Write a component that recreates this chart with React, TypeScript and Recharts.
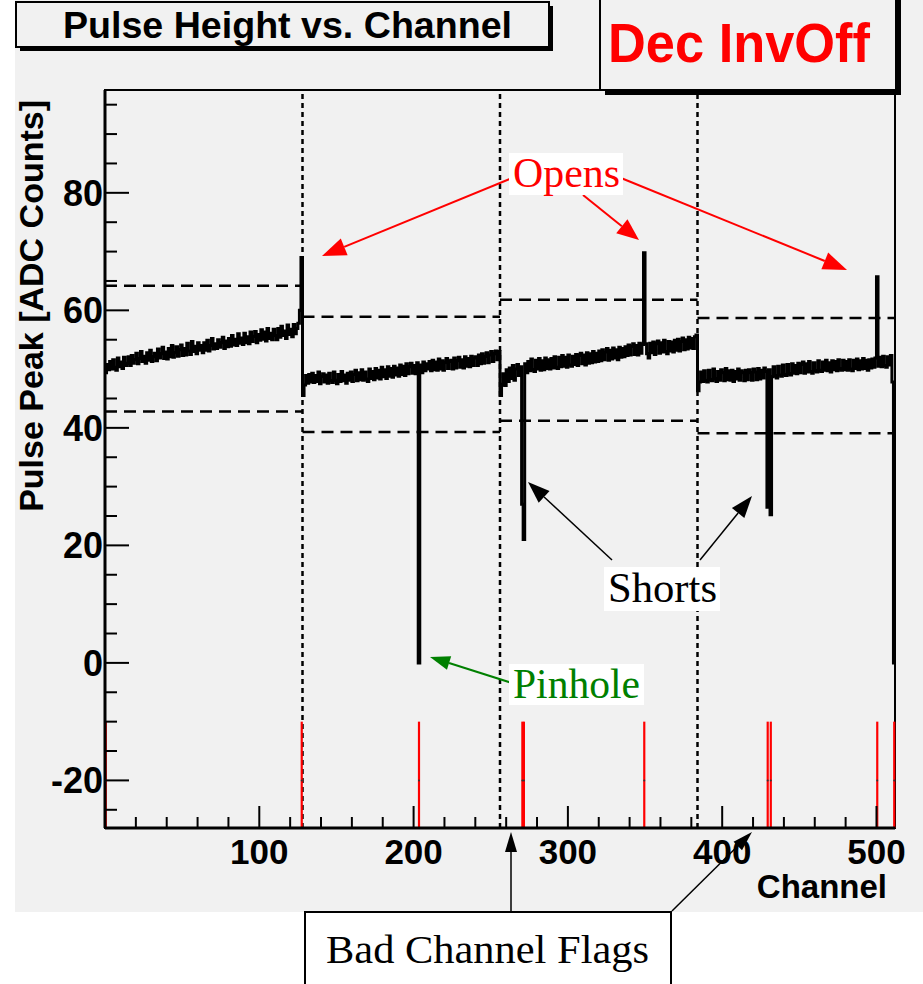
import { ComposedChart, Line, XAxis, YAxis, ReferenceLine, ReferenceArea, ReferenceDot } from 'recharts';

// pulse peak per channel, one array per 128-channel chip
const chip0 = [
  49.4, 50.8, 49.9, 51.3, 50.0, 51.6, 50.3, 49.8, 51.9, 50.4, 51.2, 50.1, 52.0, 50.6, 51.0, 52.1,
  50.6, 52.3, 51.0, 51.6, 52.7, 50.9, 51.8, 53.0, 51.3, 52.2, 51.0, 52.8, 51.5, 53.2, 51.3, 52.1,
  52.7, 51.4, 53.4, 51.9, 52.6, 53.7, 51.8, 52.9, 51.7, 53.5, 52.1, 54.0, 52.0, 52.8, 53.8, 52.2,
  53.3, 54.1, 52.3, 53.5, 52.4, 54.4, 53.1, 52.5, 54.7, 53.0, 53.9, 52.6, 54.5, 53.2, 54.0, 52.8,
  54.5, 53.2, 54.9, 53.1, 54.0, 55.2, 53.4, 54.3, 53.5, 55.0, 53.7, 54.5, 55.4, 53.5, 54.8, 53.8,
  55.2, 53.9, 55.7, 54.1, 55.1, 54.0, 56.0, 54.4, 55.3, 54.2, 56.1, 54.5, 55.5, 54.3, 56.3, 54.7,
  55.6, 56.4, 54.5, 55.9, 54.9, 56.7, 55.1, 56.3, 54.8, 56.9, 55.2, 56.1, 55.0, 56.8, 55.7, 55.0,
  56.9, 55.4, 57.3, 55.7, 56.5, 55.2, 57.5, 55.9, 56.8, 55.5, 57.6, 56.0, 56.9, 57.8, 60.0, 69.0,
];
const chip1 = [
  45.5, 47.3, 48.9, 47.6, 49.1, 47.8, 49.3, 47.7, 48.9, 47.9, 49.5, 47.5, 48.8, 49.2, 47.8, 49.0,
  47.6, 49.3, 48.0, 47.7, 49.5, 48.1, 47.5, 49.1, 47.9, 49.6, 48.0, 49.0, 47.6, 49.3, 48.1, 49.5,
  47.9, 49.1, 49.8, 48.0, 49.4, 48.2, 49.9, 48.1, 49.5, 48.3, 47.9, 50.0, 48.4, 49.6, 48.2, 50.1,
  48.5, 49.8, 48.3, 50.3, 48.7, 49.9, 48.4, 50.4, 48.8, 50.1, 48.6, 50.5, 49.0, 50.2, 48.8, 50.7,
  49.1, 50.5, 48.9, 50.9, 49.2, 50.4, 51.0, 49.3, 50.6, 49.2, 51.1, 0, 50.7, 49.4, 51.2, 49.7,
  50.9, 50.0, 51.3, 49.7, 51.5, 49.9, 51.2, 49.8, 51.7, 50.0, 51.4, 49.8, 51.2, 51.8, 50.1, 51.3,
  51.5, 50.0, 51.9, 50.2, 51.4, 52.0, 50.3, 51.6, 50.2, 52.1, 50.5, 51.8, 50.4, 52.2, 50.6, 51.9,
  52.1, 50.6, 52.4, 50.9, 52.6, 51.0, 52.2, 52.8, 51.1, 52.4, 53.0, 51.3, 52.6, 53.1, 51.6, 53.0,
];
const chip2 = [
  45.5, 47.4, 49.2, 47.2, 49.9, 47.9, 50.2, 48.4, 50.6, 48.1, 50.0, 50.8, 48.9, 50.4, 27.0, 21.0,
  50.9, 49.4, 51.3, 49.7, 51.7, 49.9, 49.6, 51.5, 50.0, 51.8, 49.8, 51.4, 49.9, 51.9, 50.1, 51.6,
  50.0, 51.8, 50.2, 52.1, 50.3, 50.1, 52.0, 50.4, 52.3, 50.5, 52.0, 50.3, 52.4, 50.7, 50.5, 52.2,
  50.8, 52.5, 50.6, 52.3, 52.7, 50.9, 52.4, 50.7, 52.8, 51.0, 52.6, 51.1, 53.0, 51.2, 52.7, 51.3,
  53.1, 51.4, 53.3, 51.6, 52.9, 53.5, 51.5, 53.2, 51.7, 53.6, 51.9, 53.3, 51.6, 53.7, 52.0, 53.5,
  52.1, 53.8, 52.3, 54.1, 52.4, 53.9, 54.3, 52.5, 54.0, 52.4, 54.4, 52.7, 54.2, 69.8, 54.3, 52.6,
  51.9, 54.4, 52.8, 54.6, 52.5, 54.3, 54.8, 52.7, 54.5, 52.9, 54.9, 53.0, 52.6, 54.7, 53.1, 54.6,
  52.9, 54.9, 53.2, 55.1, 53.1, 54.7, 55.3, 53.3, 55.0, 53.4, 55.4, 53.6, 55.2, 53.5, 55.5, 55.8,
];
const chip3 = [
  46.3, 47.8, 49.5, 47.9, 49.7, 48.1, 47.8, 49.8, 48.2, 48.0, 50.0, 48.3, 47.9, 49.6, 48.1, 49.9,
  49.4, 48.0, 50.1, 48.2, 49.7, 48.1, 49.8, 47.9, 49.6, 48.3, 50.0, 48.1, 49.7, 49.4, 48.0, 49.8,
  48.2, 49.9, 49.4, 48.1, 50.0, 49.5, 48.2, 50.1, 48.3, 49.8, 48.5, 50.2, 49.6, 26.5, 49.9, 25.2,
  48.7, 50.4, 48.9, 48.5, 50.5, 49.0, 48.8, 50.7, 49.1, 48.9, 50.8, 49.2, 49.0, 50.9, 49.3, 50.6,
  49.2, 51.0, 49.4, 50.8, 51.2, 49.3, 50.9, 49.5, 51.3, 49.6, 49.3, 51.1, 49.7, 49.5, 51.4, 49.8,
  49.6, 51.2, 49.8, 51.5, 49.7, 51.1, 49.5, 51.4, 49.9, 51.3, 49.7, 51.6, 50.0, 49.8, 51.5, 49.9,
  51.3, 49.8, 51.6, 50.0, 49.7, 51.5, 50.1, 51.7, 49.9, 51.4, 50.0, 51.8, 50.1, 51.5, 49.8, 51.6,
  50.2, 51.7, 50.3, 51.9, 65.7, 50.5, 52.0, 50.4, 52.2, 50.6, 50.3, 52.1, 50.7, 52.3, 47.8, 0,
];

const chipStarts = [0, 128, 256, 384];
const chipBoundaries = [128, 256, 384];
const upperCut = [64.2, 58.9, 61.8, 58.7];
const lowerCut = [42.8, 39.3, 41.2, 39.1];
const badChannels = [0, 127, 203, 270, 271, 349, 429, 431, 500, 511];
const flagTop = -10;
const flagMark = -20;

const xTicks = [0, 20, 40, 60, 80, 100, 120, 140, 160, 180, 200, 220, 240, 260, 280, 300, 320, 340, 360, 380, 400, 420, 440, 460, 480, 500];
const yTicks = [-25, -20, -15, -10, -5, 0, 5, 10, 15, 20, 25, 30, 35, 40, 45, 50, 55, 60, 65, 70, 75, 80, 85, 90, 95];

const Y_MIN = -28.1;
const Y_MAX = 97.5;
const N_CH = 512;

const pulsePeak = [...chip0, ...chip1, ...chip2, ...chip3];
const data = pulsePeak.map((v, ch) => ({ ch, v }));
data.push({ ch: N_CH, v: pulsePeak[N_CH - 1] });

const sans = '"Liberation Sans", Arial, Helvetica, sans-serif';
const serif = '"Liberation Serif", "Times New Roman", serif';
const BG = '#f1f1f1';

const XTick = (props: any) => {
  const { x, y, payload } = props;
  const major = payload.value % 100 === 0;
  return (
    <g>
      <line x1={x} x2={x} y1={y} y2={y - (major ? 22 : 11)} stroke="#000" strokeWidth={2} />
      {major && payload.value > 0 && (
        <text x={x} y={y + 36} textAnchor="middle" fontFamily={sans} fontWeight="bold" fontSize={35} fill="#000">
          {payload.value}
        </text>
      )}
    </g>
  );
};

const YTick = (props: any) => {
  const { x, y, payload } = props;
  const major = payload.value % 20 === 0;
  return (
    <g>
      <line x1={x} x2={x + (major ? 24 : 12)} y1={y} y2={y} stroke="#000" strokeWidth={2} />
      {major && (
        <text x={x - 2} y={y + 13} textAnchor="end" fontFamily={sans} fontWeight="bold" fontSize={36} fill="#000">
          {payload.value}
        </text>
      )}
    </g>
  );
};

const Arrow = ({ x1, y1, x2, y2, color, w = 2, len = 20, half = 7 }: any) => {
  const dx = x2 - x1;
  const dy = y2 - y1;
  const d = Math.hypot(dx, dy);
  const ux = dx / d;
  const uy = dy / d;
  const bx = x2 - ux * len;
  const by = y2 - uy * len;
  const pts = `${x2},${y2} ${bx - uy * half},${by + ux * half} ${bx + uy * half},${by - ux * half}`;
  return (
    <g>
      <line x1={x1} y1={y1} x2={bx} y2={by} stroke={color} strokeWidth={w} />
      <polygon points={pts} fill={color} />
    </g>
  );
};

export default function App() {
  return (
    <div style={{ position: 'relative', width: 923, height: 984, background: '#fff' }}>
      <style>{'body{margin:0}'}</style>
      <div style={{ position: 'absolute', left: 15, top: 0, width: 908, height: 912, background: BG }} />
      <div style={{ position: 'absolute', left: 0, top: 0 }}>
        <ComposedChart width={923} height={984} data={data} margin={{ top: 90, right: 28, left: 0, bottom: 0 }}>
          <XAxis
            dataKey="ch"
            type="number"
            domain={[0, N_CH]}
            ticks={xTicks}
            interval={0}
            height={156}
            tickSize={0}
            tickMargin={0}
            tick={<XTick />}
            axisLine={{ stroke: '#000', strokeWidth: 3 }}
            allowDataOverflow
            label={(p: any) => {
              const vb = p.viewBox;
              return (
                <text x={vb.x + vb.width - 8} y={vb.y + 70} textAnchor="end" fontFamily={sans} fontWeight="bold" fontSize={33} fill="#000">
                  Channel
                </text>
              );
            }}
          />
          <YAxis
            type="number"
            domain={[Y_MIN, Y_MAX]}
            ticks={yTicks}
            interval={0}
            width={105}
            tickSize={0}
            tickMargin={0}
            tick={<YTick />}
            axisLine={{ stroke: '#000', strokeWidth: 3 }}
            allowDataOverflow
            label={(p: any) => {
              const vb = p.viewBox;
              return (
                <text
                  x={43}
                  y={vb.y + 10}
                  transform={`rotate(-90 43 ${vb.y + 10})`}
                  textAnchor="end"
                  fontFamily={sans}
                  fontWeight="bold"
                  fontSize={34}
                  fill="#000"
                >
                  Pulse Peak [ADC Counts]
                </text>
              );
            }}
          />
          <ReferenceArea x1={0} x2={N_CH} y1={Y_MIN} y2={Y_MAX} fill="none" stroke="#000" strokeWidth={2} />
          {chipBoundaries.map((c) => (
            <ReferenceLine key={'b' + c} x={c} stroke="#000" strokeWidth={2.5} strokeDasharray="5 4" />
          ))}
          {chipStarts.map((c, i) => (
            <ReferenceLine
              key={'u' + c}
              segment={[{ x: c, y: upperCut[i] }, { x: c + 128, y: upperCut[i] }]}
              stroke="#000"
              strokeWidth={2.5}
              strokeDasharray="12 7"
            />
          ))}
          {chipStarts.map((c, i) => (
            <ReferenceLine
              key={'l' + c}
              segment={[{ x: c, y: lowerCut[i] }, { x: c + 128, y: lowerCut[i] }]}
              stroke="#000"
              strokeWidth={2.5}
              strokeDasharray="12 7"
            />
          ))}
          {badChannels.map((c) => (
            <ReferenceLine
              key={'f' + c}
              segment={[{ x: c + 0.5, y: flagTop }, { x: c + 0.5, y: Y_MIN }]}
              stroke="#ff0000"
              strokeWidth={2.2}
            />
          ))}
          {badChannels.map((c) => (
            <ReferenceDot key={'d' + c} x={c + 0.5} y={flagMark} r={1} fill="#333" stroke="none" />
          ))}
          <Line
            dataKey="v"
            type="stepAfter"
            stroke="#000"
            strokeWidth={3}
            dot={false}
            activeDot={false}
            isAnimationActive={false}
          />
        </ComposedChart>
      </div>
      <svg width={923} height={984} style={{ position: 'absolute', left: 0, top: 0, pointerEvents: 'none' }}>
        {/* title box */}
        <rect x={20} y={6} width={533} height={45} fill="#000" />
        <rect x={16} y={2} width={533} height={45} fill={BG} stroke="#000" strokeWidth={2} />
        <text x={63} y={38} fontFamily={sans} fontWeight="bold" fontSize={36} textLength={449} lengthAdjust="spacingAndGlyphs">
          Pulse Height vs. Channel
        </text>
        {/* Dec InvOff box */}
        <rect x={605} y={-5} width={296} height={100} fill="#000" />
        <rect x={600} y={-10} width={296} height={100} fill={BG} stroke="#000" strokeWidth={2} />
        <text x={608} y={62} fontFamily={sans} fontWeight="bold" fontSize={55} fill="#ff0000" textLength={262} lengthAdjust="spacingAndGlyphs">
          Dec InvOff
        </text>

        {/* Opens */}
        <Arrow x1={512} y1={178} x2={322} y2={256} color="#ff0000" w={2} len={24} half={9} />
        <Arrow x1={583} y1={195} x2={639} y2={240} color="#ff0000" w={2} len={22} half={9} />
        <Arrow x1={621} y1={178} x2={847} y2={270} color="#ff0000" w={2} len={24} half={9} />
        <rect x={509} y={153} width={114} height={42} fill="#fff" />
        <text x={513} y={187} fontFamily={serif} fontSize={42} fill="#ff0000" textLength={107} lengthAdjust="spacingAndGlyphs">
          Opens
        </text>

        {/* Shorts */}
        <Arrow x1={612} y1={560} x2={528} y2={482} color="#000" w={1.5} len={22} half={8} />
        <Arrow x1={700} y1={560} x2={752} y2={496} color="#000" w={1.5} len={22} half={8} />
        <rect x={604} y={567} width={116} height={44} fill="#fff" />
        <text x={608} y={602} fontFamily={serif} fontSize={42} fill="#000" textLength={109} lengthAdjust="spacingAndGlyphs">
          Shorts
        </text>

        {/* Pinhole */}
        <Arrow x1={512} y1={683} x2={430} y2={657} color="#008000" w={2} len={20} half={7} />
        <rect x={509} y={664} width={135} height={41} fill="#fff" />
        <text x={513} y={698} fontFamily={serif} fontSize={42} fill="#008000" textLength={127} lengthAdjust="spacingAndGlyphs">
          Pinhole
        </text>

        {/* Bad channel flags */}
        <Arrow x1={511} y1={911} x2={511} y2={832} color="#000" w={1.5} len={20} half={6} />
        <Arrow x1={672} y1={911} x2={752} y2={832} color="#000" w={1.5} len={20} half={6} />
        <rect x={305} y={912} width={366} height={80} fill="#fff" stroke="#000" strokeWidth={2} />
        <text x={326} y={963} fontFamily={serif} fontSize={41} fill="#000" textLength={323} lengthAdjust="spacingAndGlyphs">
          Bad Channel Flags
        </text>
      </svg>
    </div>
  );
}
